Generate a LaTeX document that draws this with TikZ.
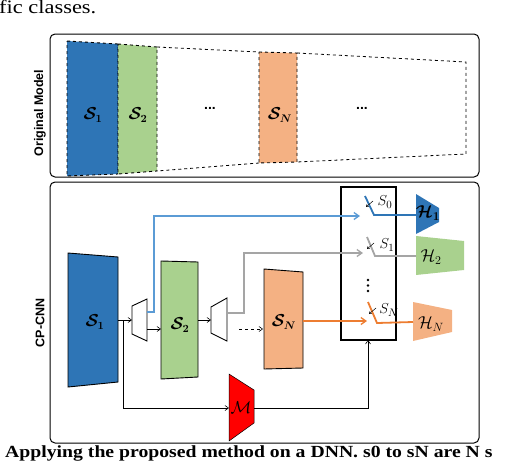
\documentclass[tikz,border=0pt]{standalone}
\usepackage{amsmath}
\usepackage{graphicx}
\usepackage{fontspec}
\newfontfamily\sflab{Liberation Sans}
\newfontfamily\serlab{Liberation Serif}
\usetikzlibrary{arrows.meta}
\definecolor{sblue}{HTML}{2E75B6}
\definecolor{lblue}{HTML}{5B9BD5}
\definecolor{sgreen}{HTML}{A9D18E}
\definecolor{sorange}{HTML}{F4B183}
\definecolor{dorange}{HTML}{ED7D31}
\definecolor{lgray}{HTML}{A5A5A5}
\tikzset{
  blk/.style={draw=black,line width=0.9pt},
  dblk/.style={draw=black,dashed,line width=0.9pt},
  conn/.style={line width=0.6pt,-{Straight Barb[length=3.5pt,width=5pt]}},
  cconn/.style={line width=1.3pt,-{Straight Barb[length=5pt,width=7pt]}},
  sw/.style={line width=1.8pt},
  lab/.style={font=\fontsize{16}{18}\selectfont},
  hlab/.style={font=\fontsize{17}{19}\selectfont},
  slab/.style={font=\fontsize{15}{16}\selectfont,inner sep=1pt},
  side/.style={font=\sflab\bfseries\fontsize{12.5}{14}\selectfont,rotate=90},
  frame/.style={draw=black,line width=1pt,rounded corners=5pt}
}
\begin{document}
\begin{tikzpicture}[x=1pt,y=-1pt]
\useasboundingbox (0,0) rectangle (514,474);
% texts outside
\node[anchor=north west,inner sep=0pt,font=\serlab\fontsize{19}{21}\selectfont] (toptext) at (-1,0) {\scalebox{1.18}[1]{fic classes.}};
\node[anchor=north west,inner sep=0pt,font=\serlab\bfseries\fontsize{17}{19}\selectfont] (caption) at (5,445) {\scalebox{1.16}[1]{Applying the proposed method on a DNN. s0 to sN are N s}};
% ---------------- top frame
\draw[frame] (50,34) rectangle (479,177);
\node[side] (origlab) at (40,113) {Original Model};
\filldraw[fill=sblue,dblk] (67,41) -- (118,44) -- (118,174) -- (67,176) -- cycle;
\filldraw[fill=sgreen,dblk] (118,44) -- (157,47) -- (157,171) -- (118,174) -- cycle;
\filldraw[fill=sorange,dblk] (259,52) -- (297,53) -- (297,162) -- (259,163) -- cycle;
\draw[dashed,line width=0.8pt] (157,47) -- (259,52) (297,53) -- (466,62) -- (466,154) -- (297,162) (259,163) -- (157,171);
\node[lab] (ts1) at (93,115) {$\boldsymbol{\mathcal{S}_1}$};
\node[lab] (ts2) at (138,115) {$\boldsymbol{\mathcal{S}_2}$};
\node[lab] (tsn) at (280,115) {$\boldsymbol{\mathcal{S}_N}$};
\node[font=\sflab\bfseries\fontsize{14}{14}\selectfont] (td1) at (210,108) {...};
\node[font=\sflab\bfseries\fontsize{14}{14}\selectfont] (td2) at (362,108) {...};
% ---------------- bottom frame
\draw[frame] (50,182) rectangle (479,443);
\node[side] (cplab) at (40,323) {CP-CNN};
% blocks
\filldraw[fill=sblue,blk] (68,253) -- (118,257) -- (118,382) -- (68,387) -- cycle;
\node[lab] (bs1) at (95,322) {$\boldsymbol{\mathcal{S}_1}$};
\filldraw[fill=white,blk] (132,306) -- (147,299) -- (147,341) -- (132,334) -- cycle;
\filldraw[fill=sgreen,blk] (161,261) -- (198,262) -- (198,377) -- (161,379) -- cycle;
\node[lab] (bs2) at (180,325) {$\boldsymbol{\mathcal{S}_2}$};
\filldraw[fill=white,blk] (211,307) -- (227,298) -- (227,341) -- (211,333) -- cycle;
\filldraw[fill=sorange,blk] (264,269) -- (303,272) -- (303,368) -- (264,369) -- cycle;
\node[lab] (bsn) at (284,322) {$\boldsymbol{\mathcal{S}_N}$};
\filldraw[fill=red,draw=black,line width=0.5pt] (229,374) -- (254,390) -- (254,423) -- (229,441) -- cycle;
\node[hlab] (mm) at (241,408) {$\mathcal{M}$};
% heads
\fill[sblue] (416,194) -- (439,208) -- (439,222) -- (416,234) -- cycle;
\node[hlab] (h1) at (428,213) {$\boldsymbol{\mathcal{H}_1}$};
\fill[sgreen] (416,236) -- (464,241) -- (464,270) -- (416,275) -- cycle;
\node[hlab] (h2) at (431,257) {$\mathcal{H}_2$};
\fill[sorange] (413,302) -- (452,310) -- (452,332) -- (413,341) -- cycle;
\node[hlab] (hn) at (431,324) {$\mathcal{H}_N$};
% switch box
\draw[line width=1.4pt] (341,187) rectangle (396,340);
% coordinates
\coordinate (s1out) at (118,320);
\coordinate (t1in) at (132,320);
\coordinate (br) at (123,320);
\coordinate (brd) at (123,408);
\coordinate (min) at (229,408);
\coordinate (t1o1) at (147,312);
\coordinate (t1o2) at (147,329);
\coordinate (s2in) at (161,329);
\coordinate (s2out) at (198,320);
\coordinate (t2in) at (211,320);
\coordinate (t2o1) at (227,313);
\coordinate (dstart) at (239,329);
\coordinate (snin) at (263,329);
\coordinate (snout) at (303,321);
\coordinate (sw0) at (360,216);
\coordinate (sw1) at (363,253);
\coordinate (swn) at (367,321);
\coordinate (mout) at (254,408);
\coordinate (swb) at (368,340);
% connectors
\draw[conn] (s1out) -- (t1in);
\draw[conn] (br) |- (min);
\draw[conn] (t1o2) -- (s2in);
\draw[conn] (s2out) -- (t2in);
\draw[conn,dashed] (dstart) -- (snin);
\draw[conn] (mout) -| (swb);
\draw[cconn,lblue] (t1o1) -| (154,216) -- (sw0);
\draw[cconn,lgray] (t2o1) -| (244,253) -- (sw1);
\draw[cconn,dorange] (snout) -- (swn);
% switches
\draw[sw,sblue] (365,196) -- (374,215) -- (416,215);
\draw[sw,lgray] (367,237) -- (375,256) -- (416,256);
\draw[sw,dorange] (368,302) -- (377,323) -- (413,322);
\draw[line width=0.5pt,-{Straight Barb[length=2pt,width=3pt]}] (373,201) -- (366,207);
\draw[line width=0.5pt,-{Straight Barb[length=2pt,width=3pt]}] (374,243) -- (367,249);
\draw[line width=0.5pt,-{Straight Barb[length=2pt,width=3pt]}] (376,308) -- (369,314);
\node[slab] (l0) at (385,202) {$S_0$};
\node[slab] (l1) at (387,245) {$S_1$};
\node[slab] (ln) at (389,310) {$S_N$};
\fill (368,280) circle (1.3) (368,285.5) circle (1.3) (368,291) circle (1.3);
\end{tikzpicture}
\end{document}
